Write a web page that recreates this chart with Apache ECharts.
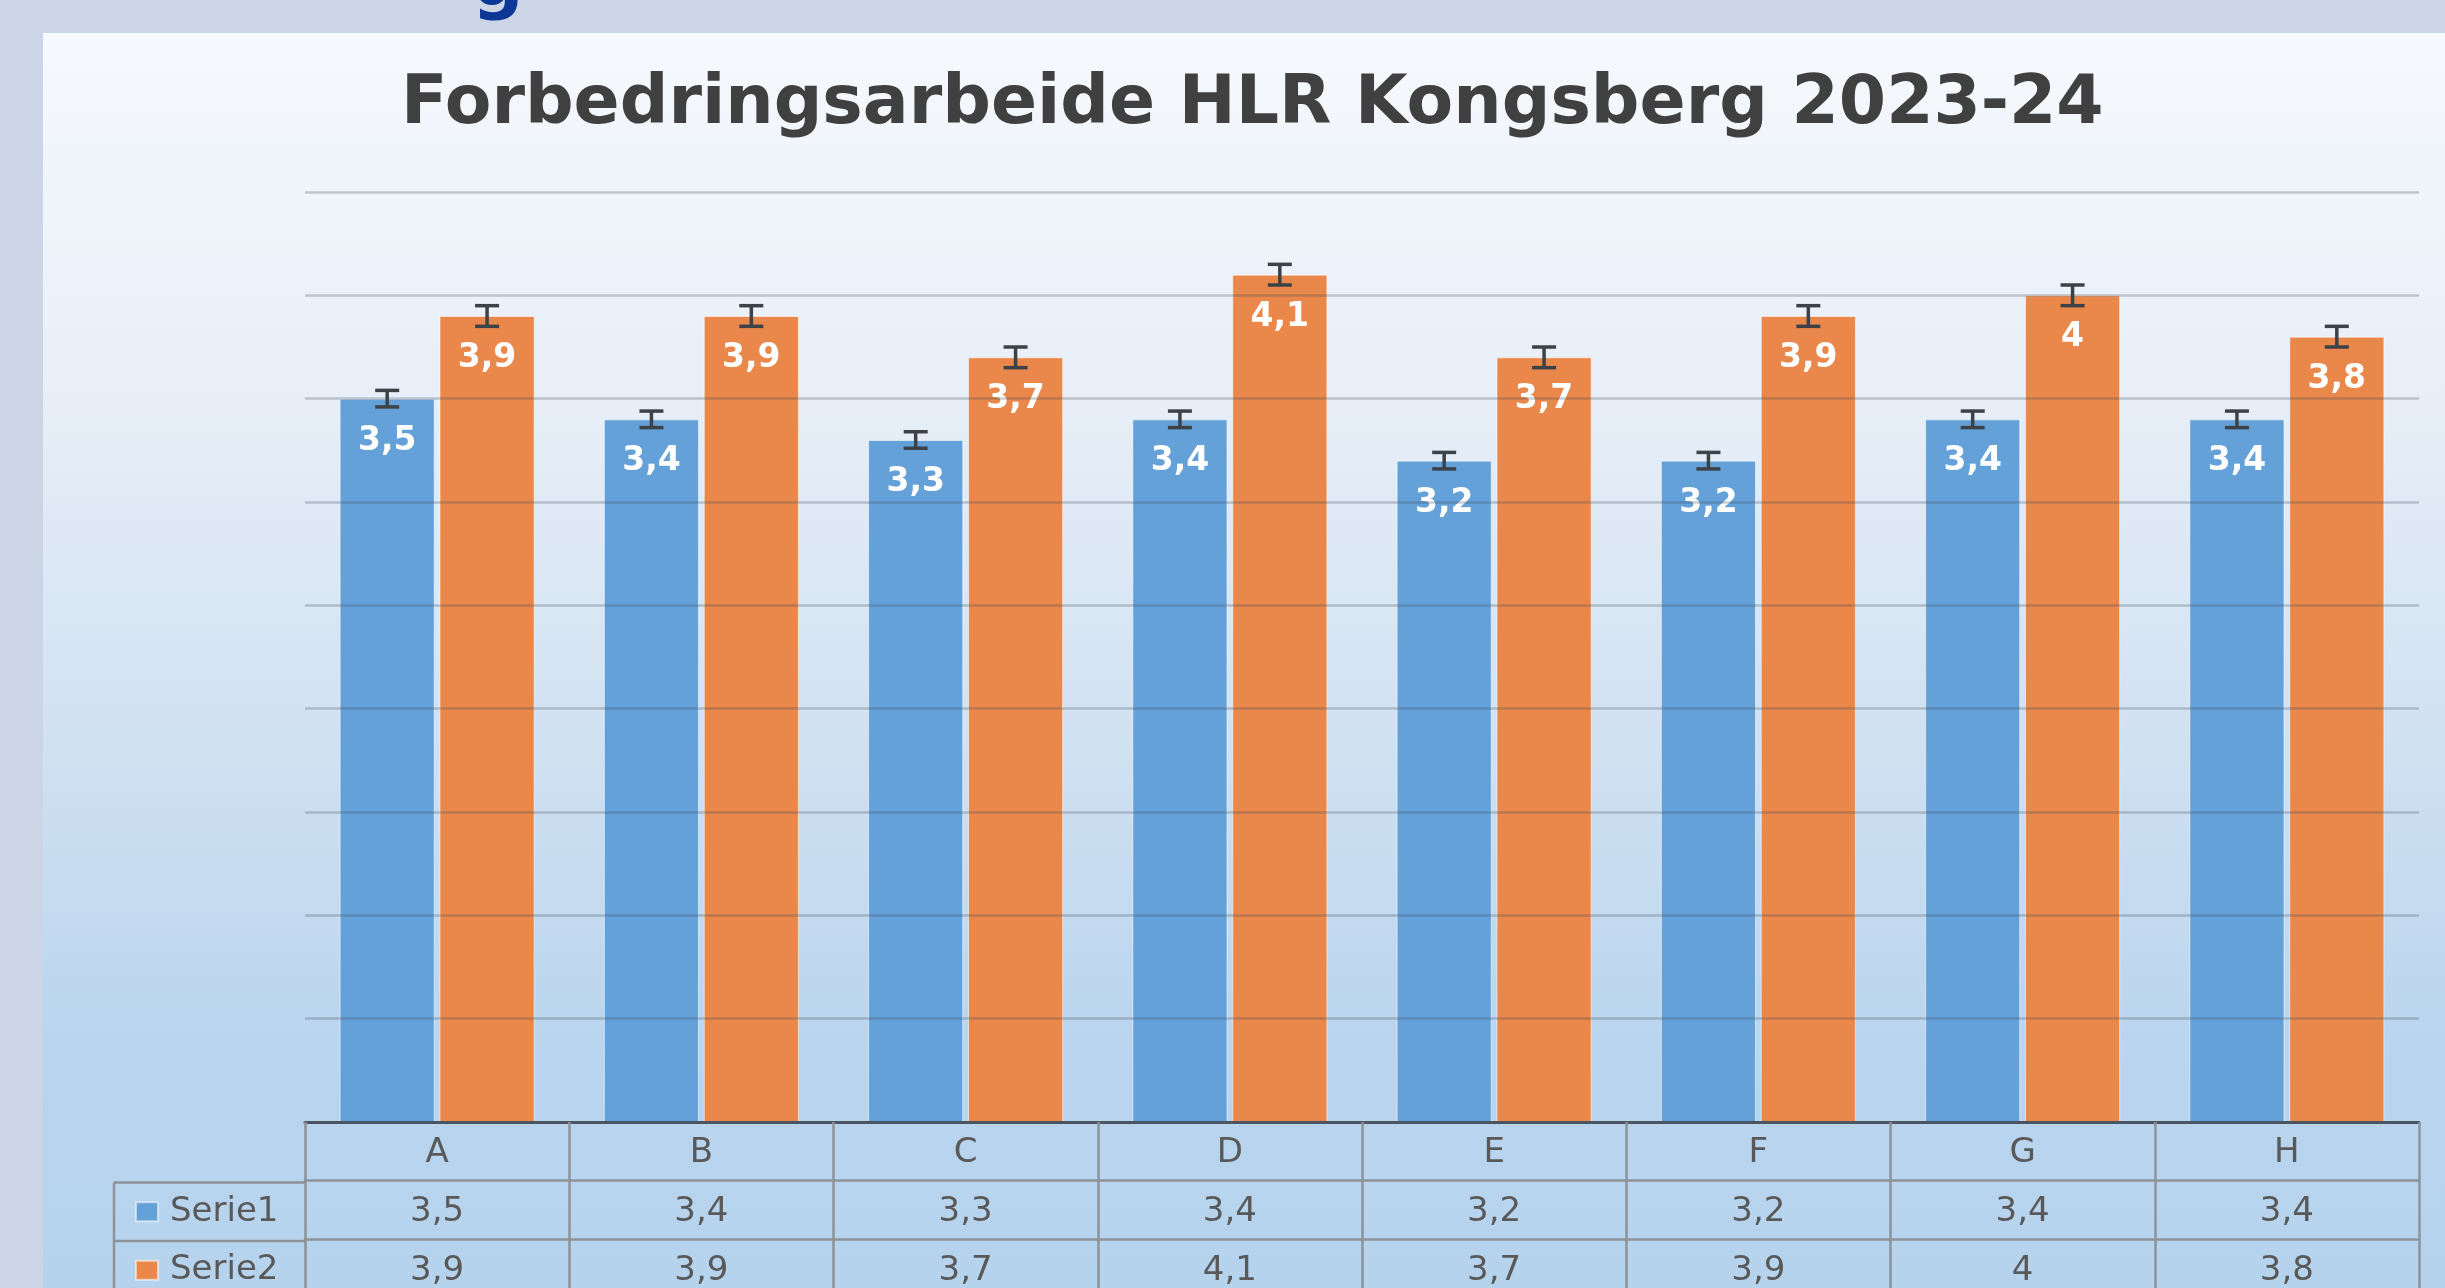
<!DOCTYPE html>
<html>
<head>
<meta charset="utf-8">
<script src="https://cdn.jsdelivr.net/npm/echarts@6/dist/echarts.min.js"></script>
<style>
html,body{margin:0;padding:0;background:#ccd5e6;}
#chart{width:2445px;height:1288px;}
</style>
</head>
<body>
<div id="chart"></div>
<script>
// ---- data ----
var categories = ['A', 'B', 'C', 'D', 'E', 'F', 'G', 'H'];
var seriesNames = ['Serie1', 'Serie2'];
var serie1 = [3.5, 3.4, 3.3, 3.4, 3.2, 3.2, 3.4, 3.4];
var serie2 = [3.9, 3.9, 3.7, 4.1, 3.7, 3.9, 4.0, 3.8];
var err1 = [0.04, 0.04, 0.04, 0.04, 0.04, 0.04, 0.04, 0.04];
var err2 = [0.05, 0.05, 0.05, 0.05, 0.05, 0.05, 0.05, 0.05];
var yTicks = [0, 0.5, 1, 1.5, 2, 2.5, 3, 3.5, 4, 4.5];
var titleText = 'Forbedringsarbeide HLR Kongsberg 2023-24';

// ---- style ----
var FONT = 'DejaVu Sans';
var BLUE = '#64a1d8', ORANGE = '#e9884a';
var TEXT_GREY = '#595959';
var TABLE_LINE = '#8d9298';
var BAR_W = 0.36, BAR_GAP = 0.05;
var GRID = {left: 305, right: 26, top: 192, bottom: 164};
var ROW_H = 58.5;

function fmt(v) { return String(v).replace('.', ','); }

var chart = echarts.init(document.getElementById('chart'), null, {renderer: 'canvas'});

function errorSeries(name, vals, errs, sideSign) {
  var data = vals.map(function (v, i) { return [i, v, errs[i]]; });
  return {
    name: name,
    type: 'custom',
    xAxisIndex: 0,
    yAxisIndex: 0,
    z: 5,
    silent: true,
    encode: {x: 0, y: 1},
    data: data,
    renderItem: function (params, api) {
      var i = api.value(0), v = api.value(1), e = api.value(2);
      var band = api.size([1, 0])[0];
      var group = BAR_W * 2 + BAR_W * BAR_GAP;
      var off = sideSign * (group / 2 - BAR_W / 2) * band;
      var c = api.coord([i, v]);
      var x = c[0] + off;
      var yTop = api.coord([i, v + e])[1];
      var yBot = api.coord([i, v - e])[1];
      var hw = 12;
      var st = {stroke: '#3d4249', lineWidth: 3.5, fill: null};
      return {
        type: 'group',
        children: [
          {type: 'line', shape: {x1: x, y1: yTop, x2: x, y2: yBot}, style: st},
          {type: 'line', shape: {x1: x - hw, y1: yTop, x2: x + hw, y2: yTop}, style: st},
          {type: 'line', shape: {x1: x - hw, y1: yBot, x2: x + hw, y2: yBot}, style: st}
        ]
      };
    }
  };
}

function barSeries(name, vals, color) {
  return {
    name: name,
    type: 'bar',
    data: vals,
    barWidth: (BAR_W * 100) + '%',
    barGap: (BAR_GAP * 100) + '%',
    z: 2,
    itemStyle: {color: color, borderColor: 'rgba(255,255,255,0.55)', borderWidth: 1},
    label: {
      show: true,
      position: 'insideTop',
      distance: 26,
      color: '#ffffff',
      fontFamily: FONT,
      fontWeight: 'bold',
      fontSize: 33,
      formatter: function (p) { return fmt(p.value); }
    }
  };
}

function tableAxis(offset, vals, showLine) {
  return {
    type: 'category',
    data: categories,
    position: 'bottom',
    offset: offset,
    gridIndex: 0,
    axisLine: {show: showLine, lineStyle: {color: TABLE_LINE, width: 2.5}},
    axisTick: {show: false},
    splitLine: {show: false},
    axisLabel: {
      interval: 0,
      margin: 15,
      color: TEXT_GREY,
      fontFamily: FONT,
      fontSize: 34,
      formatter: function (val, idx) { return fmt(vals[idx]); }
    }
  };
}

function legendRow(name, row) {
  var centerY = 1288 - GRID.bottom + ROW_H * (row + 0.5);
  return {
    data: [name],
    orient: 'horizontal',
    left: 135,
    top: centerY - 17,
    itemWidth: 22,
    itemHeight: 19,
    icon: 'rect',
    selectedMode: false,
    padding: 0,
    textStyle: {fontFamily: FONT, fontSize: 34, color: TEXT_GREY, lineHeight: 34, padding: [0, 0, 0, 7]}
  };
}

var gridBottomY = 1288 - GRID.bottom;

var option = {
  backgroundColor: '#ccd5e6',
  animation: false,
  title: {
    text: titleText,
    left: 396,
    top: 66,
    textStyle: {fontFamily: FONT, fontWeight: 'bold', fontSize: 68, color: '#404040'}
  },
  legend: [legendRow(seriesNames[0], 1), legendRow(seriesNames[1], 2)],
  grid: {left: GRID.left, right: GRID.right, top: GRID.top, bottom: GRID.bottom, containLabel: false},
  xAxis: [
    {
      type: 'category',
      data: categories,
      position: 'bottom',
      z: 4,
      axisLine: {show: true, lineStyle: {color: '#4a5561', width: 3}},
      axisTick: {show: true, interval: 0, alignWithLabel: false, length: 180,
                 lineStyle: {color: TABLE_LINE, width: 2.5}},
      splitLine: {show: false},
      axisLabel: {interval: 0, margin: 14, color: TEXT_GREY, fontFamily: FONT, fontSize: 34}
    },
    tableAxis(ROW_H, serie1, true),
    tableAxis(ROW_H * 2, serie2, true)
  ],
  yAxis: {
    type: 'value',
    min: yTicks[0],
    max: yTicks[yTicks.length - 1],
    interval: yTicks[1] - yTicks[0],
    z: 3,
    axisLine: {show: false},
    axisTick: {show: false},
    axisLabel: {show: false},
    splitLine: {show: true, lineStyle: {color: 'rgba(70,80,92,0.28)', width: 2.5}}
  },
  graphic: [
    {
      type: 'rect', z: -10, silent: true,
      shape: {x: 43, y: 33, width: 2445 - 43, height: 1288 - 33},
      style: {
        fill: new echarts.graphic.LinearGradient(0, 0, 0, 1, [
          {offset: 0, color: '#f6f9fd'},
          {offset: 0.28, color: '#e8eff8'},
          {offset: 0.55, color: '#d2e2f2'},
          {offset: 0.8, color: '#bad5ee'},
          {offset: 1, color: '#b6d3ed'}
        ])
      }
    },
    {
      type: 'text', z: 10, silent: true,
      x: 472, y: -50,
      style: {text: 'g', font: 'bold 72px "DejaVu Sans"', fill: '#0c3794', verticalAlign: 'top'}
    },
    {
      type: 'line', z: 10, silent: true,
      shape: {x1: 114, y1: gridBottomY + ROW_H, x2: GRID.left, y2: gridBottomY + ROW_H},
      style: {stroke: TABLE_LINE, lineWidth: 2.5}
    },
    {
      type: 'line', z: 10, silent: true,
      shape: {x1: 114, y1: gridBottomY + ROW_H * 2, x2: GRID.left, y2: gridBottomY + ROW_H * 2},
      style: {stroke: TABLE_LINE, lineWidth: 2.5}
    },
    {
      type: 'line', z: 10, silent: true,
      shape: {x1: 114, y1: gridBottomY + ROW_H, x2: 114, y2: 1300},
      style: {stroke: TABLE_LINE, lineWidth: 2.5}
    }
  ],
  series: [
    barSeries(seriesNames[0], serie1, BLUE),
    barSeries(seriesNames[1], serie2, ORANGE),
    errorSeries('Serie1 error', serie1, err1, -1),
    errorSeries('Serie2 error', serie2, err2, 1)
  ]
};

chart.setOption(option);
</script>
</body>
</html>
